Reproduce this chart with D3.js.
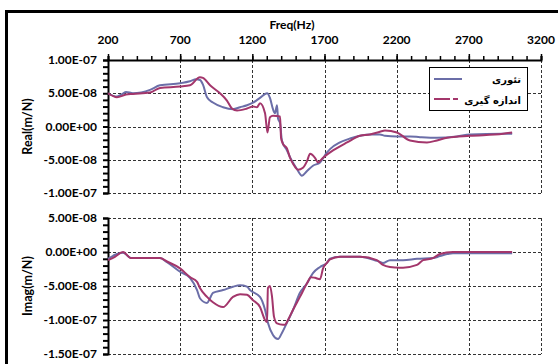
<!DOCTYPE html>
<html><head><meta charset="utf-8">
<script src="https://cdn.jsdelivr.net/npm/d3@7"></script>
<style>
html,body{margin:0;padding:0;background:#fff;}
svg{display:block;}
text{font-family:Lato,"Open Sans",sans-serif;font-weight:bold;fill:#000;}
</style></head>
<body>
<script>
// ---- data (values in units of 1E-08 m/N) ----
const freqTicks = [200, 700, 1200, 1700, 2200, 2700, 3200];
const realTicks = [10, 5, 0, -5, -10];
const realTickLabels = ["1.00E-07", "5.00E-08", "0.00E+00", "-5.00E-08", "-1.00E-07"];
const imagTicks = [5, 0, -5, -10, -15];
const imagTickLabels = ["5.00E-08", "0.00E+00", "-5.00E-08", "-1.00E-07", "-1.50E-07"];
const seriesNames = ["تئوری", "اندازه گیری"];

const realTheoryF = [200,262,300,325,373,491,560,699,768,810,837,858,886,927,997,1066,1115,1163,1205,1253,1302,1322,1343,1357,1371,1378,1392,1405,1440,1475,1509,1544,1579,1620,1669,1717,1738,1807,1877,1946,2015,2084,2119,2202,2292,2362,2479,2618,2708,2937,3000];
const realTheoryV = [5.0,4.5,4.9,5.2,5.0,5.5,6.2,6.5,6.8,7.1,7.0,6.3,4.4,3.6,2.9,2.6,2.9,3.2,3.6,4.3,5.0,4.3,2.6,2.0,3.2,1.2,0.5,-2.1,-3.6,-5.2,-6.4,-7.4,-6.7,-5.9,-5.4,-3.9,-3.4,-2.4,-1.8,-1.4,-1.2,-1.2,-1.4,-1.5,-1.5,-1.6,-1.7,-1.5,-1.2,-1.1,-1.1];

const realMeasF = [200,262,325,373,491,560,699,768,837,858,907,976,1024,1059,1094,1163,1205,1232,1253,1288,1305,1322,1343,1392,1399,1412,1440,1461,1482,1516,1551,1579,1600,1634,1655,1690,1759,1856,1946,2015,2084,2119,2202,2292,2410,2479,2549,2708,2937,3000];
const realMeasV = [5.0,4.4,4.8,4.9,5.1,5.8,6.0,6.2,7.4,7.3,6.2,5.0,3.9,2.7,2.4,2.7,3.0,2.9,3.5,2.0,-0.9,1.4,1.6,1.5,-1.7,-2.6,-3.3,-4.7,-5.6,-6.5,-6.2,-5.2,-4.1,-4.7,-5.4,-4.7,-3.6,-2.4,-1.4,-1.2,-0.8,-0.6,-0.9,-2.1,-2.4,-2.1,-1.7,-1.4,-1.1,-0.9];

const imagTheoryF = [200,262,304,360,560,609,699,768,817,837,886,907,927,997,1066,1115,1163,1184,1253,1288,1308,1343,1378,1405,1440,1482,1530,1579,1620,1669,1717,1738,1807,1946,2063,2105,2153,2244,2341,2452,2500,2590,3000];
const imagTheoryV = [-1.0,-0.3,-0.1,-0.9,-0.9,-1.5,-2.9,-3.8,-5.6,-6.8,-7.5,-6.8,-6.0,-5.6,-5.1,-4.9,-5.1,-5.6,-6.6,-8.5,-10.4,-12.2,-12.8,-11.9,-10.4,-8.5,-6.0,-4.6,-3.1,-2.2,-1.6,-1.0,-0.7,-0.7,-1.3,-1.6,-1.2,-1.2,-1.0,-0.9,-0.6,-0.2,-0.2];

const imagMeasF = [200,248,304,360,560,609,699,768,817,837,886,927,997,1066,1115,1163,1205,1253,1288,1302,1308,1322,1336,1350,1371,1412,1426,1447,1482,1530,1579,1606,1634,1669,1690,1717,1738,1807,1946,2063,2105,2153,2222,2244,2341,2383,2452,2500,2590,3000];
const imagMeasV = [-1.2,-0.7,0.0,-0.9,-0.9,-1.4,-2.4,-3.7,-4.4,-5.3,-6.6,-7.4,-8.1,-6.6,-6.2,-6.3,-7.1,-8.1,-10.0,-10.3,-5.3,-5.0,-6.5,-9.5,-10.5,-10.7,-10.7,-10.0,-8.5,-6.6,-4.6,-3.7,-3.8,-4.0,-2.4,-1.6,-1.1,-0.7,-0.7,-1.2,-1.9,-2.2,-2.3,-2.3,-1.9,-1.2,-0.9,-0.3,0.0,0.0];

const colors = ["#6b6ea8", "#a3366b"];

// ---- drawing ----
const W = 558, H = 364;
const svg = d3.select("body").append("svg").attr("width", W).attr("height", H);

// outer frame (thick black, cropped at right/bottom)
svg.append("line").attr("x1",6.5).attr("x2",6.5).attr("y1",10).attr("y2",H).attr("stroke","#000").attr("stroke-width",3);
svg.append("line").attr("x1",5).attr("x2",W).attr("y1",11.5).attr("y2",11.5).attr("stroke","#000").attr("stroke-width",3);

const x = d3.scaleLinear().domain([200, 3200]).range([108, 541]);
const yR = d3.scaleLinear().domain([-10, 10]).range([193, 60]);
const yI = d3.scaleLinear().domain([-15, 5]).range([354, 218]);

function grid(y, yTicks) {
  const g = svg.append("g").attr("stroke","#333").attr("stroke-width",1).attr("stroke-dasharray","3,2");
  yTicks.forEach(t => g.append("line").attr("x1",x(200)).attr("x2",x(3200)).attr("y1",Math.round(y(t))+0.5).attr("y2",Math.round(y(t))+0.5));
  freqTicks.slice(1).forEach(f => g.append("line").attr("x1",Math.round(x(f))+0.5).attr("x2",Math.round(x(f))+0.5).attr("y1",y.range()[1]).attr("y2",y.range()[0]));
}
grid(yR, realTicks);
grid(yI, imagTicks);

function yAxis(y, lo, hi, ticks, labels) {
  const g = svg.append("g").attr("transform", `translate(${x(200)},0)`);
  g.call(d3.axisLeft(y).tickValues(d3.range(lo, hi + 0.01, 1)).tickSize(5).tickFormat(""));
  g.select(".domain").attr("stroke-width", 2);
  g.selectAll(".tick line").attr("stroke-width", 2);
  ticks.forEach((t, i) => svg.append("text").attr("x", 97).attr("y", y(t)).attr("dy", "0.35em")
    .attr("text-anchor", "end").attr("font-size", 12).text(labels[i]));
}
yAxis(yR, -10, 10, realTicks, realTickLabels);
yAxis(yI, -15, 5, imagTicks, imagTickLabels);

// top axis
const gt = svg.append("g").attr("transform", `translate(0,${yR(10)})`);
gt.call(d3.axisTop(x).tickValues(d3.range(200, 3201, 100)).tickSize(4).tickFormat(""));
gt.select(".domain").attr("stroke-width", 2);
gt.selectAll(".tick line").attr("stroke-width", 1.5);
const gt2 = svg.append("g").attr("transform", `translate(0,${yR(10)})`);
gt2.call(d3.axisTop(x).tickValues(freqTicks).tickSize(6).tickFormat(""));
gt2.select(".domain").remove();
gt2.selectAll(".tick line").attr("stroke-width", 1.5);
freqTicks.forEach(f => svg.append("text").attr("x", x(f)).attr("y", 44).attr("text-anchor", "middle").attr("font-size", 12).text(f));
svg.append("text").attr("x", 292).attr("y", 29).attr("text-anchor", "middle").attr("font-size", 12).text("Freq(Hz)");

// y titles
svg.append("text").attr("transform", `translate(32,${(yR(10)+yR(-10))/2}) rotate(-90)`).attr("text-anchor","middle").attr("font-size",12.5).text("Real(m/N)");
svg.append("text").attr("transform", `translate(32,${(yI(5)+yI(-15))/2}) rotate(-90)`).attr("text-anchor","middle").attr("font-size",12.5).text("Imag(m/N)");

// lines
function drawLine(F, V, y, color) {
  const pts = F.map((f, i) => [f, V[i]]);
  svg.append("path").datum(pts)
    .attr("d", d3.line().x(d => x(d[0])).y(d => y(d[1])).curve(d3.curveMonotoneX))
    .attr("fill", "none").attr("stroke", color).attr("stroke-width", 2).attr("stroke-linejoin","round");
}
drawLine(realTheoryF, realTheoryV, yR, colors[0]);
drawLine(realMeasF, realMeasV, yR, colors[1]);
drawLine(imagTheoryF, imagTheoryV, yI, colors[0]);
drawLine(imagMeasF, imagMeasV, yI, colors[1]);

// legend
const lg = svg.append("g");
lg.append("rect").attr("x", 429.5).attr("y", 67.5).attr("width", 98).attr("height", 43).attr("fill", "#fff").attr("stroke", "#000").attr("stroke-width", 1);
lg.append("line").attr("x1", 434).attr("x2", 462).attr("y1", 79).attr("y2", 79).attr("stroke", colors[0]).attr("stroke-width", 2);
lg.append("line").attr("x1", 434).attr("x2", 460).attr("y1", 99).attr("y2", 99).attr("stroke", colors[1]).attr("stroke-width", 2).attr("stroke-dasharray", "16,3,5,3");
seriesNames.forEach((n, i) => lg.append("text").attr("x", 521).attr("y", i ? 100 : 79).attr("dy", "0.35em")
  .attr("text-anchor", "end").attr("font-size", 10).style("font-family", "'DejaVu Sans',sans-serif").text(n));
</script>
</body></html>
